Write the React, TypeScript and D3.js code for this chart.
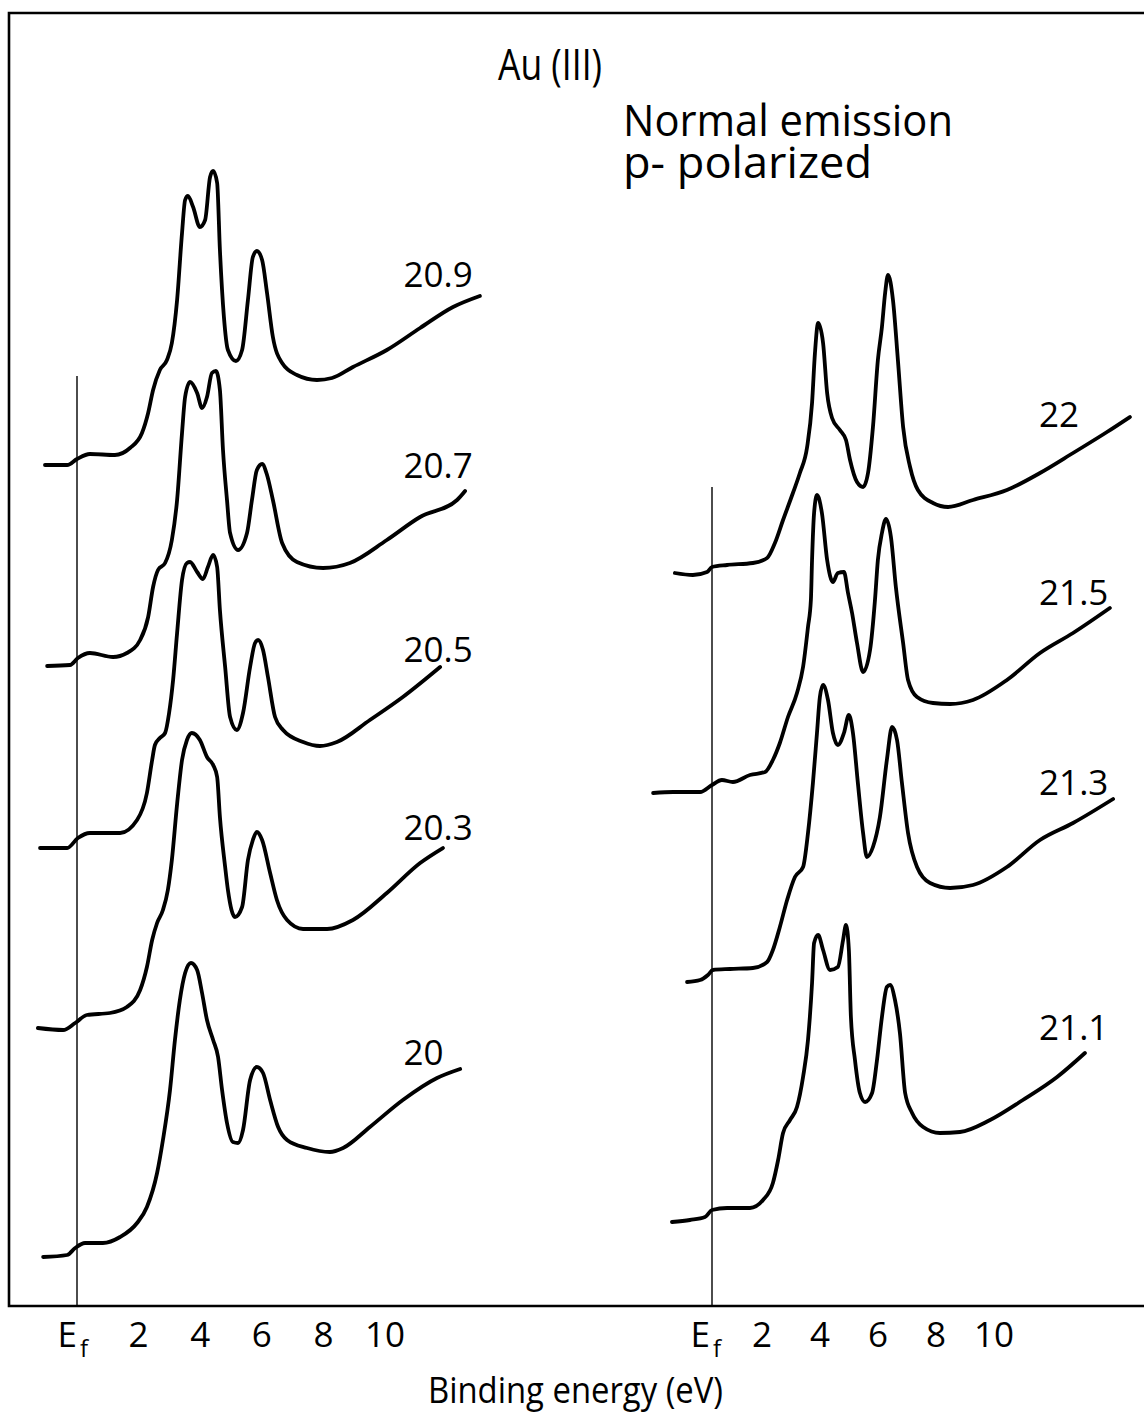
import React from 'react';
import * as d3 from 'd3';

type Pt = [number, number];

// Binding energy ticks (eV)
const tickValues = [2, 4, 6, 8, 10];

// Spectra: [binding energy (eV), intensity above the curve's own baseline]
const s20_9: Pt[] = [
  [-1.04, 0], [-0.32, 0], [0, 0.6], [0.42, 1.1], [1.23, 1.0], [1.72, 1.7], [2.11, 3.2], [2.31, 5.2],
  [2.47, 7.5], [2.69, 9.5], [2.92, 10.5], [3.08, 12.2], [3.25, 16.5], [3.41, 23.2], [3.51, 26.5],
  [3.6, 26.9], [3.77, 25.8], [3.99, 23.8], [4.16, 24.5], [4.32, 28.8], [4.42, 29.4], [4.55, 28.2],
  [4.64, 21.5], [4.77, 14.8], [4.9, 11.5], [5.16, 10.4], [5.36, 11.5], [5.55, 16.5], [5.71, 20.8],
  [5.84, 21.4], [6.01, 20.5], [6.17, 17.2], [6.36, 12.8], [6.66, 10.2], [7.14, 9.0], [7.79, 8.5],
  [8.28, 8.7], [8.96, 9.8], [10.06, 11.5], [11.14, 13.7], [12.21, 15.8], [13.08, 16.9],
];
const s20_7: Pt[] = [
  [-0.97, 0], [-0.23, 0.1], [0.03, 0.8], [0.42, 1.3], [1.17, 0.9], [1.62, 1.3], [2.05, 2.6], [2.31, 4.9],
  [2.47, 7.9], [2.63, 9.6], [2.86, 10.3], [3.08, 12.6], [3.25, 16.6], [3.41, 23.3], [3.51, 26.9],
  [3.67, 28.4], [3.9, 27.3], [4.06, 25.8], [4.22, 26.9], [4.38, 29.3], [4.51, 29.5], [4.64, 27.6],
  [4.74, 21.6], [4.87, 16.6], [4.97, 13.3], [5.23, 11.6], [5.52, 13.3], [5.68, 16.6], [5.84, 19.6],
  [6.01, 20.2], [6.17, 19.1], [6.36, 16.6], [6.66, 12.3], [7.14, 10.4], [7.99, 9.8], [8.86, 10.3],
  [10.06, 12.6], [11.14, 14.9], [12.34, 16.6], [12.6, 17.5],
];
const s20_5: Pt[] = [
  [-1.2, 0], [-0.32, 0], [0.03, 1.0], [0.42, 1.5], [1.4, 1.5], [1.95, 2.8], [2.27, 5.5], [2.44, 8.8],
  [2.53, 10.3], [2.69, 11.0], [2.86, 11.5], [2.99, 13.5], [3.12, 16.8], [3.25, 21.5], [3.41, 26.8],
  [3.57, 28.5], [3.67, 28.6], [3.9, 27.6], [4.09, 26.9], [4.25, 28.1], [4.42, 29.3], [4.55, 28.1],
  [4.64, 23.8], [4.81, 18.1], [4.97, 13.1], [5.19, 11.8], [5.39, 13.5], [5.62, 18.1], [5.78, 20.5],
  [5.88, 20.8], [6.04, 19.8], [6.2, 17.1], [6.43, 13.1], [6.69, 11.8], [7.34, 10.6], [7.89, 10.2],
  [8.44, 10.6], [9.51, 12.8], [10.58, 15.1], [11.79, 18.1],
];
const s20_3: Pt[] = [
  [-1.27, 0], [-0.45, -0.2], [-0.06, 0.5], [0.32, 1.3], [1.07, 1.5], [1.62, 2.1], [2.05, 3.8],
  [2.27, 6.1], [2.44, 8.8], [2.6, 10.5], [2.79, 11.8], [2.95, 13.8], [3.08, 16.8],
  [3.25, 22.4], [3.41, 26.8], [3.57, 28.8], [3.73, 29.5], [3.99, 28.8], [4.22, 27.1], [4.42, 26.3],
  [4.55, 25.1], [4.64, 21.1], [4.81, 16.1], [4.9, 13.8], [5.13, 11.1], [5.36, 12.1], [5.55, 16.8],
  [5.71, 18.8], [5.84, 19.6], [6.01, 18.8], [6.27, 15.5], [6.49, 12.8], [6.82, 10.8], [7.34, 9.9],
  [8.12, 9.9], [8.96, 10.8], [10.06, 13.5], [11.14, 16.5], [11.88, 18.0],
];
const s20_0: Pt[] = [
  [-1.1, -0.1], [-0.32, 0.1], [-0.06, 0.8], [0.26, 1.3], [0.84, 1.3], [1.4, 1.9], [1.95, 3.3],
  [2.27, 4.9], [2.6, 8.3], [2.79, 11.6], [3.02, 16.6], [3.18, 21.6], [3.34, 25.6], [3.51, 28.3],
  [3.7, 29.3], [3.9, 28.6], [4.06, 26.3], [4.22, 23.6], [4.42, 21.6], [4.58, 19.9], [4.71, 16.6],
  [4.87, 13.3], [5.06, 11.4], [5.23, 11.3], [5.39, 12.6], [5.62, 17.6], [5.84, 18.9], [6.04, 18.3],
  [6.27, 15.6], [6.53, 12.9], [6.82, 11.6], [7.47, 10.8], [8.21, 10.4], [8.64, 10.8], [9.51, 12.9],
  [10.58, 15.6], [11.69, 17.8], [12.44, 18.7],
];
const s22_0: Pt[] = [
  [-1.28, 0.1], [-0.66, -0.1], [-0.17, 0.2], [0, 0.7], [0.52, 0.9], [1.41, 1.1], [1.9, 1.6],
  [2.17, 3.1], [2.45, 5.4], [2.79, 8.1], [3.03, 10.1], [3.28, 12.7], [3.45, 17.1], [3.55, 22.1],
  [3.66, 25.1], [3.83, 23.1], [3.97, 18.1], [4.14, 15.6], [4.41, 14.4], [4.62, 13.4], [4.76, 11.4],
  [5.0, 9.2], [5.21, 8.7], [5.38, 10.1], [5.55, 14.7], [5.72, 21.4], [5.86, 24.7], [5.97, 28.1],
  [6.07, 29.9], [6.24, 27.4], [6.41, 21.4], [6.59, 14.7], [6.83, 10.7], [7.1, 8.4], [7.62, 7.1],
  [8.14, 6.7], [9.0, 7.4], [10.17, 8.4], [11.31, 10.1], [12.45, 12.1], [13.62, 14.2], [14.41, 15.7],
];
const s21_5: Pt[] = [
  [-2.03, 0], [-1.34, 0.1], [-0.41, 0.1], [0, 0.8], [0.34, 1.3], [0.72, 1.1], [1.31, 1.8], [1.83, 2.1],
  [2.1, 3.3], [2.34, 5.0], [2.62, 7.6], [2.93, 10.0], [3.14, 12.6], [3.31, 16.6], [3.41, 19.3],
  [3.45, 23.3], [3.52, 28.0], [3.62, 29.8], [3.79, 28.0], [3.97, 23.3], [4.17, 21.1], [4.34, 22.0],
  [4.55, 22.1], [4.69, 20.0], [4.83, 18.0], [5.0, 15.0], [5.21, 12.1], [5.45, 14.3], [5.62, 19.3],
  [5.72, 23.3], [5.86, 26.0], [6.0, 27.4], [6.17, 25.6], [6.34, 20.6], [6.59, 15.0], [6.76, 11.3],
  [7.07, 9.6], [7.62, 9.0], [8.21, 8.9], [9.0, 9.3], [10.17, 11.3], [11.31, 14.0], [12.45, 16.0],
  [13.72, 18.5],
];
const s21_3: Pt[] = [
  [-0.86, 0], [-0.41, 0.2], [-0.14, 0.7], [0.03, 1.2], [0.62, 1.3], [1.41, 1.4], [1.9, 2.0],
  [2.1, 3.2], [2.34, 5.5], [2.59, 8.2], [2.86, 10.5], [3.14, 11.5], [3.31, 14.9], [3.48, 19.9],
  [3.62, 24.9], [3.72, 28.5], [3.83, 29.7], [4.0, 28.2], [4.17, 24.9], [4.34, 23.7], [4.55, 24.9],
  [4.72, 26.7], [4.86, 24.9], [5.03, 19.9], [5.21, 14.9], [5.34, 12.5], [5.55, 13.5], [5.79, 16.5],
  [6.03, 22.2], [6.21, 25.5], [6.38, 24.2], [6.55, 19.9], [6.76, 14.9], [7.07, 11.5], [7.52, 9.9],
  [8.21, 9.4], [9.0, 9.7], [10.17, 11.5], [11.31, 14.2], [12.45, 15.9], [13.83, 18.3],
];
const s21_1: Pt[] = [
  [-1.38, 0], [-0.76, 0.2], [-0.24, 0.5], [0, 1.2], [0.52, 1.4], [1.31, 1.4], [1.76, 2.2],
  [2.1, 3.9], [2.28, 6.2], [2.45, 8.9], [2.69, 10.2], [2.93, 11.5], [3.14, 14.5], [3.31, 18.2],
  [3.45, 23.9], [3.52, 27.9], [3.66, 28.7], [3.83, 27.2], [4.07, 25.2], [4.34, 25.5], [4.52, 28.2],
  [4.62, 29.7], [4.72, 27.2], [4.79, 20.5], [4.93, 16.2], [5.1, 12.9], [5.28, 12.0], [5.52, 12.9],
  [5.69, 16.2], [5.86, 20.5], [6.03, 23.5], [6.14, 23.7], [6.31, 22.2], [6.48, 18.9], [6.66, 12.9],
  [6.9, 10.9], [7.28, 9.5], [7.86, 8.9], [8.55, 9.0], [9.59, 10.2], [10.72, 12.2], [11.9, 14.5],
  [12.86, 16.9],
];

// Photon energies (eV) labelling each spectrum, stacking offsets and label heights
const leftLabels = ['20.9', '20.7', '20.5', '20.3', '20'];
const leftSeries = [s20_9, s20_7, s20_5, s20_3, s20_0];
const leftOffsets = [84.1, 64.0, 45.8, 27.8, 5.0];
const leftLabelLevels = [17.8, 18.8, 18.6, 18.8, 19.1];

const rightLabels = ['22', '21.5', '21.3', '21.1'];
const rightSeries = [s22_0, s21_5, s21_3, s21_1];
const rightOffsets = [73.2, 51.3, 32.4, 8.4];
const rightLabelLevels = [14.7, 18.8, 18.7, 18.2];

const W = 1144;
const H = 1416;
const FONT = "'Open Sans', 'DejaVu Sans', sans-serif";

export default function App() {
  const y = d3.scaleLinear().domain([0, 130.6]).range([1306, 0]);
  const xL = d3.scaleLinear().domain([0, 10]).range([77, 385]);
  const xR = d3.scaleLinear().domain([0, 10]).range([712, 1002]);

  const panels = [
    { x: xL, labels: leftLabels, series: leftSeries, offsets: leftOffsets, levels: leftLabelLevels, labelE: 10.6, efTop: 93.0, tickShift: 0, eShift: 0 },
    { x: xR, labels: rightLabels, series: rightSeries, offsets: rightOffsets, levels: rightLabelLevels, labelE: 11.28, efTop: 81.9, tickShift: -8, eShift: -2 },
  ];

  const yBottom = y(0);

  return (
    <svg width={W} height={H} style={{ position: 'absolute', left: 0, top: 0, background: '#fff' }}>
      <rect x={0} y={0} width={W} height={H} fill="#fff" />
      {/* frame */}
      <path d={`M${W},13 H9 V${yBottom} H${W}`} fill="none" stroke="#000" strokeWidth={2.6} />

      {panels.map((p, pi) => (
        <g key={pi}>
          <line x1={p.x(0)} x2={p.x(0)} y1={y(p.efTop)} y2={yBottom} stroke="#000" strokeWidth={1.4} />
          {p.series.map((s, i) => {
            const off = p.offsets[i];
            const gen = d3
              .line<Pt>()
              .x((d) => p.x(d[0]))
              .y((d) => y(off + d[1]))
              .curve(d3.curveMonotoneX);
            return (
              <g key={i}>
                <path d={gen(s) || ''} fill="none" stroke="#000" strokeWidth={3.8} strokeLinecap="round" strokeLinejoin="round" />
                <text x={p.x(p.labelE)} y={y(off + p.levels[i])} fontFamily={FONT} fontSize={35} fill="#000">
                  {p.labels[i]}
                </text>
              </g>
            );
          })}
          {/* axis labels */}
          <text x={p.x(0) + p.eShift} y={1347} fontFamily={FONT} fontSize={35} textAnchor="end" fill="#000">E</text>
          <text x={p.x(0) + p.eShift + 3} y={1357} fontFamily={FONT} fontSize={24} fill="#000">f</text>
          {tickValues.map((v) => (
            <text key={v} x={p.x(v) + p.tickShift} y={1347} fontFamily={FONT} fontSize={35} textAnchor="middle" fill="#000">
              {v}
            </text>
          ))}
        </g>
      ))}

      <text x={498} y={80} fontFamily={FONT} fontSize={44} textLength={104} lengthAdjust="spacingAndGlyphs" fill="#000">Au (III)</text>
      <text x={623} y={136} fontFamily={FONT} fontSize={44} textLength={330} lengthAdjust="spacingAndGlyphs" fill="#000">Normal emission</text>
      <text x={623} y={178} fontFamily={FONT} fontSize={44} textLength={249} lengthAdjust="spacingAndGlyphs" fill="#000">p- polarized</text>
      <text x={428} y={1403} fontFamily={FONT} fontSize={36} textLength={295} lengthAdjust="spacingAndGlyphs" fill="#000">Binding energy (eV)</text>
    </svg>
  );
}
